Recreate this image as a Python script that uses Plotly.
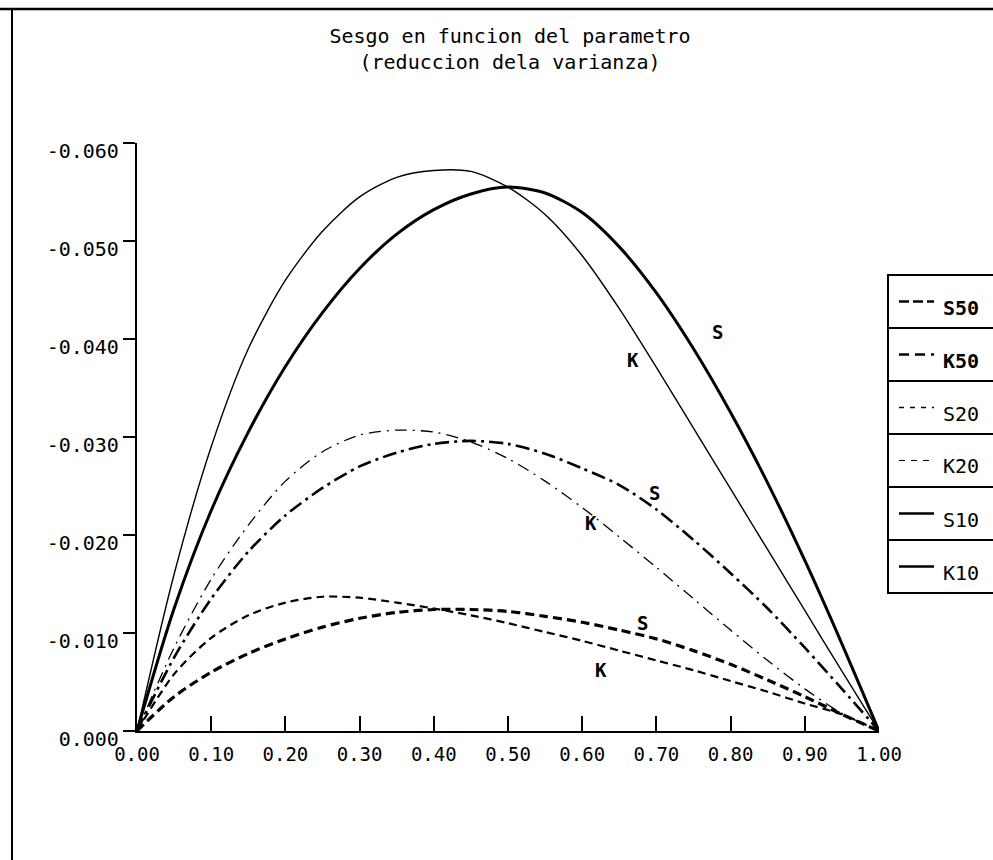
import plotly.graph_objects as go

# ---------------- data ----------------
x_param = [0.00, 0.05, 0.10, 0.15, 0.20, 0.25, 0.30, 0.35, 0.40, 0.45, 0.50,
           0.55, 0.60, 0.65, 0.70, 0.75, 0.80, 0.85, 0.90, 0.95, 1.00]

s10 = [0, -0.0125, -0.0225, -0.0305, -0.0372, -0.0427, -0.0472, -0.0507, -0.0532, -0.0548, -0.0555,
       -0.0549, -0.0529, -0.0494, -0.0447, -0.0390, -0.0325, -0.0253, -0.0174, -0.0089, 0]
k10 = [0, -0.0160, -0.0290, -0.0390, -0.0460, -0.0510, -0.0545, -0.0565, -0.0572, -0.0571, -0.0555,
       -0.0527, -0.0485, -0.0431, -0.0371, -0.0309, -0.0247, -0.0185, -0.0123, -0.0061, 0]
s20 = [0, -0.0075, -0.0135, -0.0183, -0.0220, -0.0248, -0.0270, -0.0284, -0.0293, -0.0296, -0.0293,
       -0.0283, -0.0268, -0.0251, -0.0226, -0.0195, -0.0161, -0.0125, -0.0085, -0.0043, 0]
k20 = [0, -0.0085, -0.0155, -0.0210, -0.0255, -0.0285, -0.0302, -0.0307, -0.0305, -0.0295, -0.0278,
       -0.0255, -0.0228, -0.0198, -0.0167, -0.0135, -0.0103, -0.0072, -0.0043, -0.0018, 0]
s50 = [0, -0.0035, -0.0060, -0.0079, -0.0094, -0.0106, -0.0115, -0.0121, -0.0124, -0.0124, -0.0122,
       -0.0117, -0.0111, -0.0103, -0.0094, -0.0082, -0.0068, -0.0052, -0.0035, -0.0017, 0]
k50 = [0, -0.0058, -0.0095, -0.0118, -0.0131, -0.0137, -0.0136, -0.0131, -0.0125, -0.0118, -0.0110,
       -0.0101, -0.0092, -0.0082, -0.0072, -0.0062, -0.0051, -0.0040, -0.0028, -0.0017, 0]

x_tick_vals = [0.0, 0.1, 0.2, 0.3, 0.4, 0.5, 0.6, 0.7, 0.8, 0.9, 1.0]
x_tick_text = ["0.00", "0.10", "0.20", "0.30", "0.40", "0.50", "0.60", "0.70", "0.80", "0.90", "1.00"]
y_tick_vals = [0.0, -0.01, -0.02, -0.03, -0.04, -0.05, -0.06]
y_tick_text = ["0.000", "-0.010", "-0.020", "-0.030", "-0.040", "-0.050", "-0.060"]

legend_names = ["S50", "K50", "S20", "K20", "S10", "K10"]

# curve labels (letter, x, y)
curve_label_text = ["S", "K", "S", "K", "S", "K"]
curve_label_x = [0.782, 0.668, 0.697, 0.612, 0.681, 0.626]
curve_label_y = [-0.0407, -0.0379, -0.0243, -0.0212, -0.0110, -0.0062]

# ---------------- styles ----------------
FONT = "DejaVu Sans Mono"
styles = {
    "S50": dict(width=3.2, dash="9px,5px"),
    "K50": dict(width=2.2, dash="8px,5px"),
    "S20": dict(width=2.6, dash="14px,5px,3px,5px"),
    "K20": dict(width=1.3, dash="12px,6px,2px,6px"),
    "S10": dict(width=3.0, dash="solid"),
    "K10": dict(width=1.4, dash="solid"),
}
series = {"S50": s50, "K50": k50, "S20": s20, "K20": k20, "S10": s10, "K10": k10}

fig = go.Figure()
for name in ["S10", "K10", "S20", "K20", "S50", "K50"]:
    fig.add_trace(go.Scatter(
        x=x_param, y=series[name], mode="lines", name=name,
        line=dict(color="black", shape="spline", smoothing=0.8, **styles[name]),
        showlegend=False, hoverinfo="x+y+name"))

for t, lx, ly in zip(curve_label_text, curve_label_x, curve_label_y):
    fig.add_annotation(x=lx, y=ly, text="<b>%s</b>" % t, showarrow=False,
                       font=dict(family=FONT, size=19, color="black"))

# ---------------- layout geometry ----------------
W, H = 993, 860
L, R = 137, 879   # pixel x for 0 and 1
T, B = 143, 731   # pixel y for -0.060 and 0


def px_x(p):
    return (p - L) / (R - L)


def px_y(p):
    return (B - p) / (B - T)


shapes = []
# frame (top and left border)
shapes.append(dict(type="line", xref="paper", yref="paper",
                   x0=px_x(0), x1=px_x(W), y0=px_y(9), y1=px_y(9),
                   line=dict(color="black", width=2.5)))
shapes.append(dict(type="line", xref="paper", yref="paper",
                   x0=px_x(12), x1=px_x(12), y0=px_y(9), y1=px_y(H),
                   line=dict(color="black", width=2)))

# custom legend
leg_left, leg_right = 888, 1000
leg_top, leg_bot = 275, 593
row_h = (leg_bot - leg_top) / len(legend_names)
shapes.append(dict(type="rect", xref="paper", yref="paper",
                   x0=px_x(leg_left), x1=px_x(leg_right), y0=px_y(leg_top), y1=px_y(leg_bot),
                   line=dict(color="black", width=2), fillcolor="white", layer="below"))
leg_dash = {"S50": "10px,4px", "K50": "10px,6px", "S20": "5px,6px", "K20": "6px,6px",
            "S10": "solid", "K10": "solid"}
leg_width = {"S50": 2.6, "K50": 2.6, "S20": 1.4, "K20": 1.2, "S10": 2.6, "K10": 2.4}
for i, name in enumerate(legend_names):
    top = leg_top + i * row_h
    if i > 0:
        shapes.append(dict(type="line", xref="paper", yref="paper",
                           x0=px_x(leg_left), x1=px_x(leg_right), y0=px_y(top), y1=px_y(top),
                           line=dict(color="black", width=2)))
    cy = top + row_h * 0.5
    shapes.append(dict(type="line", xref="paper", yref="paper",
                       x0=px_x(899), x1=px_x(934), y0=px_y(cy), y1=px_y(cy),
                       line=dict(color="black", width=leg_width[name], dash=leg_dash[name])))
    txt = "<b>%s</b>" % name if name in ("S50", "K50") else name
    fig.add_annotation(xref="paper", yref="paper", x=px_x(941), y=px_y(cy + 6),
                       text=txt, showarrow=False, xanchor="left", yanchor="middle",
                       font=dict(family=FONT, size=20, color="black"))

fig.update_layout(
    width=W, height=H,
    margin=dict(l=L, r=W - R, t=T, b=H - B, pad=0),
    paper_bgcolor="white", plot_bgcolor="white",
    shapes=shapes,
    title=dict(text="Sesgo en funcion del parametro<br>(reduccion dela varianza)",
               x=510 / W, xanchor="center", y=1 - 43 / H, yanchor="middle",
               font=dict(family=FONT, size=20, color="black")),
    font=dict(family=FONT, color="black"),
)

fig.update_xaxes(range=[0, 1], tickvals=x_tick_vals, ticktext=x_tick_text,
                 showgrid=False, zeroline=False, showline=True, linecolor="black", linewidth=2.2,
                 ticks="inside", ticklen=15, tickwidth=2, tickcolor="black",
                 ticklabelstandoff=5,
                 tickfont=dict(family=FONT, size=19, color="black"))
fig.update_yaxes(range=[0, -0.06], tickvals=y_tick_vals, ticktext=y_tick_text,
                 showgrid=False, zeroline=False, showline=True, linecolor="black", linewidth=2.2,
                 ticks="outside", ticklen=12, tickwidth=2, tickcolor="black",
                 ticklabelshift=-8,
                 tickfont=dict(family=FONT, size=20, color="black"))

fig.write_html("out.html")
